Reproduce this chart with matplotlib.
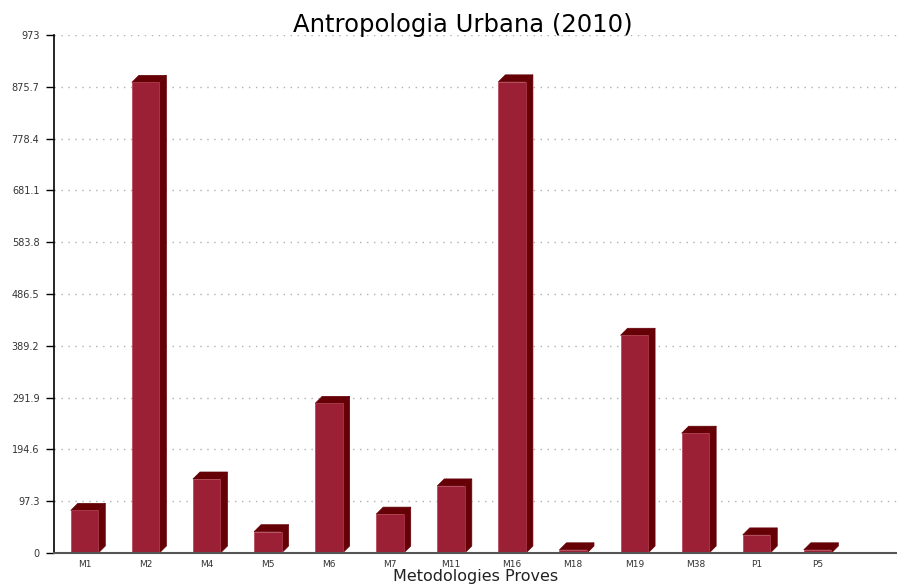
import matplotlib
matplotlib.use("Agg")
import matplotlib.pyplot as plt
from matplotlib.patches import Polygon, Rectangle
import numpy as np

categories = ["M1", "M2", "M4", "M5", "M6", "M7", "M11", "M16", "M18", "M19", "M38", "P1", "P5"]
values = [80, 884, 139, 40, 281, 73, 126, 885, 6, 409, 225, 34, 6]
yticks = [0, 97.3, 194.6, 291.9, 389.2, 486.5, 583.8, 681.1, 778.4, 875.7, 973]
ytick_labels = ["0", "97.3", "194.6", "291.9", "389.2", "486.5", "583.8", "681.1", "778.4", "875.7", "973"]
title = "Antropologia Urbana (2010)"
xlabel = "Metodologies Proves"

front = "#9b2035"
dark = "#650006"

W, H = 897, 585
fig = plt.figure(figsize=(W / 100, H / 100), dpi=100)
ax = fig.add_axes([54 / W, 32 / H, (W - 54) / W, 518 / H])
ax.set_xlim(-0.5, 13.3)
ax.set_ylim(0, 973)

# pixel -> data conversion
ppx = (W - 54) / 13.8
ppy = 518 / 973
depth_px = 7
dx = depth_px / ppx
dy = depth_px / ppy
bw = 0.45

x = np.arange(len(categories))
for xi, v in zip(x, values):
    x0, x1 = xi - bw / 2, xi + bw / 2
    ax.add_patch(Polygon([(x1, 0), (x1 + dx, dy), (x1 + dx, v + dy), (x1, v)],
                         closed=True, facecolor=dark, edgecolor=dark, lw=0.5, zorder=3))
    ax.add_patch(Polygon([(x0, v), (x0 + dx, v + dy), (x1 + dx, v + dy), (x1, v)],
                         closed=True, facecolor=dark, edgecolor=dark, lw=0.5, zorder=3))
    ax.add_patch(Rectangle((x0, 0), bw, v, facecolor=front, edgecolor="#b04050", lw=0.5, zorder=4))

ax.set_yticks(yticks)
ax.set_yticklabels(ytick_labels, fontsize=7, color="#333333")
ax.set_xticks(x)
ax.set_xticklabels(categories, fontsize=6.5, color="#333333")
ax.tick_params(axis="y", direction="out", length=5.5, width=1, color="black", pad=5)
ax.tick_params(axis="x", length=0, pad=5)

ax.grid(axis="y", color="#b0b0b0", linestyle=(0, (1, 4)), linewidth=1)
ax.set_axisbelow(True)
for s in ["top", "right"]:
    ax.spines[s].set_visible(False)
ax.spines["left"].set_color("black")
ax.spines["left"].set_linewidth(1.2)
ax.spines["bottom"].set_color("#555555")
ax.spines["bottom"].set_linewidth(1.5)
ax.spines["bottom"].set_zorder(5)

fig.text(463 / W, 1 - 25 / H, title, fontsize=17.5, ha="center", va="center", color="black")
fig.text(476 / W, 1 - 577 / H, xlabel, fontsize=11.5, ha="center", va="center", color="#222222")

fig.savefig("out.png", dpi=100)
